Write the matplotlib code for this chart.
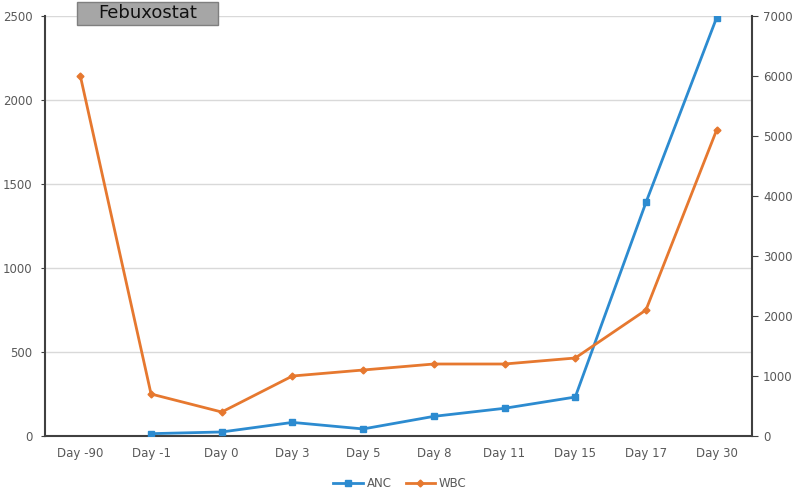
import matplotlib
matplotlib.use("Agg")
import matplotlib.pyplot as plt
from matplotlib.lines import Line2D
from matplotlib.patches import Rectangle

categories = ["Day -90", "Day -1", "Day 0", "Day 3", "Day 5", "Day 8", "Day 11", "Day 15", "Day 17", "Day 30"]
anc = [None, 14, 24, 81, 42, 117, 165, 232, 1390, 2490]
wbc = [6000, 700, 400, 1000, 1100, 1200, 1200, 1300, 2100, 5100]
left_ticks = [0, 500, 1000, 1500, 2000, 2500]
right_ticks = [0, 1000, 2000, 3000, 4000, 5000, 6000, 7000]

blue = "#2C8BD0"
orange = "#E6782F"
tick_col = "#595959"

plt.rcParams['font.family'] = ['DejaVu Sans']
fig = plt.figure(figsize=(8, 4.92), dpi=100)
ax = fig.add_axes([0.05625, 0.1138, 0.88375, 0.8537])
ax2 = ax.twinx()

x = list(range(len(categories)))
ax_x = [i for i, v in zip(x, anc) if v is not None]
ax_y = [v for v in anc if v is not None]
ax.plot(ax_x, ax_y, color=blue, lw=2.0, marker="s", ms=4, zorder=3)
ax2.plot(x, wbc, color=orange, lw=2.0, marker="D", ms=3.5, zorder=3)

ax.set_xlim(-0.5, len(categories) - 0.5)
ax.set_ylim(0, 2500)
ax2.set_ylim(0, 7000)
ax.set_yticks(left_ticks)
ax2.set_yticks(right_ticks)
ax.set_xticks(x)
ax.set_xticklabels(categories)

ax.grid(axis="y", color="#D9D9D9", lw=1)
ax.set_axisbelow(True)

for a in (ax, ax2):
    a.spines["top"].set_visible(False)
ax.spines["right"].set_visible(False)
ax2.spines["left"].set_visible(False)
ax2.spines["bottom"].set_visible(False)
ax.spines["left"].set_color("#404040")
ax.spines["left"].set_linewidth(1.5)
ax.spines["bottom"].set_color("#404040")
ax.spines["bottom"].set_linewidth(1.5)
ax2.spines["right"].set_color("#404040")
ax2.spines["right"].set_linewidth(1.5)

ax.tick_params(axis="x", length=0, labelsize=8.5, labelcolor=tick_col, pad=8)
ax.tick_params(axis="y", length=3, labelsize=8.5, labelcolor=tick_col, color="#404040", pad=6)
ax2.tick_params(axis="y", length=4, labelsize=8.5, labelcolor=tick_col, color="#404040", pad=4)

fig.add_artist(Rectangle((0.096, 0.949), 0.176, 0.047, transform=fig.transFigure,
                         fc="#A6A6A6", ec="#7F7F7F", lw=1, zorder=5))
fig.text(0.184, 0.9726, "Febuxostat", ha="center", va="center", fontsize=13,
         color="#111111", zorder=6)

handles = [Line2D([0], [0], color=blue, lw=2.0, marker="s", ms=4),
           Line2D([0], [0], color=orange, lw=2.0, marker="D", ms=3.5)]
fig.legend(handles, ["ANC", "WBC"], loc="center", bbox_to_anchor=(0.5, 0.018), ncol=2,
           frameon=False, fontsize=8.5, labelcolor=tick_col, handlelength=2.5, columnspacing=1.2,
           handletextpad=0.3)

fig.savefig("out.png", dpi=100)
